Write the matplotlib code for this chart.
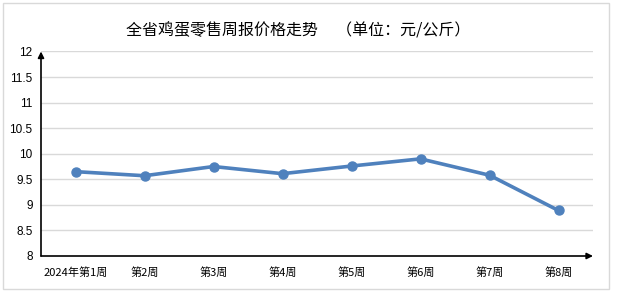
import matplotlib.pyplot as plt
from matplotlib.patches import Rectangle

plt.rcParams['font.family'] = ['Noto Sans CJK SC', 'DejaVu Sans']

weeks = ['2024年第1周', '第2周', '第3周', '第4周', '第5周', '第6周', '第7周', '第8周']
prices = [9.65, 9.57, 9.75, 9.61, 9.76, 9.90, 9.58, 8.89]
yticks = [8, 8.5, 9, 9.5, 10, 10.5, 11, 11.5, 12]
ytick_labels = ['8', '8.5', '9', '9.5', '10', '10.5', '11', '11.5', '12']

W, H = 617, 298
fig = plt.figure(figsize=(W / 100, H / 100), dpi=100)
fig.patches.append(Rectangle((3 / W, 9 / H), 606 / W, 286 / H, transform=fig.transFigure,
                             fill=False, edgecolor='#d9d9d9', linewidth=1))

ax = fig.add_axes([41 / W, 42 / H, 552 / W, 204.5 / H])
x = list(range(len(weeks)))
ax.plot(x, prices, color='#4f81bd', linewidth=2.6, marker='o', markersize=6.5, zorder=3)

ax.set_xlim(-0.5, len(weeks) - 0.5)
ax.set_ylim(8, 12)
ax.set_yticks(yticks)
ax.set_yticklabels(ytick_labels, family='Liberation Sans', fontsize=8.5)
ax.set_xticks(x)
ax.set_xticklabels(weeks, fontsize=8)
ax.tick_params(length=0)
ax.tick_params(axis='y', pad=6)
ax.tick_params(axis='x', pad=8)
for s in ax.spines.values():
    s.set_visible(False)
for t in yticks[1:]:
    ax.axhline(t, color='#d9d9d9', linewidth=1, zorder=1)

arrow = dict(arrowstyle='-|>', color='black', lw=1.2, mutation_scale=9, shrinkA=0, shrinkB=0)
ax.annotate('', xy=(0, 1), xytext=(0, 0), xycoords='axes fraction', arrowprops=arrow)
ax.annotate('', xy=(1, 0), xytext=(0, 0), xycoords='axes fraction', arrowprops=arrow)

fig.text(126 / W, 1 - 31 / H, '全省鸡蛋零售周报价格走势     （单位：元/公斤）',
         ha='left', va='center', fontsize=11.5)

fig.savefig('out.png', dpi=100)
